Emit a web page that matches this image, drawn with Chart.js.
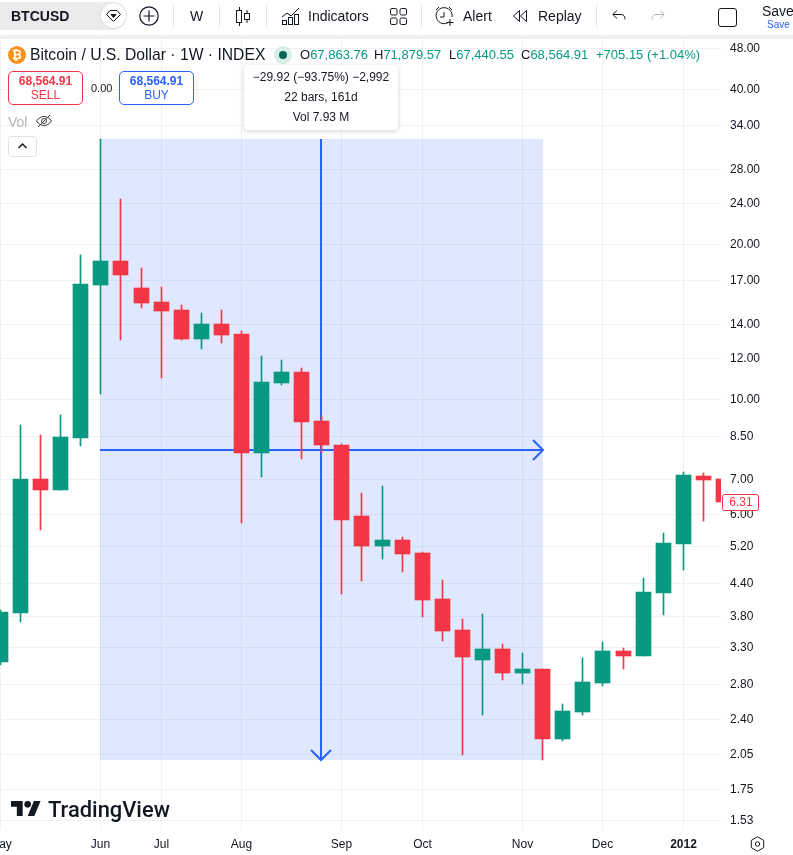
<!DOCTYPE html>
<html><head><meta charset="utf-8"><title>BTCUSD</title>
<script src="https://cdn.jsdelivr.net/npm/chart.js@4"></script>
<style>
html,body{margin:0;padding:0;background:#fff;width:793px;height:855px;overflow:hidden;font-family:"Liberation Sans",Arial,sans-serif;color:#131722}
canvas{position:absolute;left:0;top:0}
#ov{position:absolute;left:0;top:0;width:793px;height:855px;pointer-events:none}
.t{position:absolute;white-space:nowrap;line-height:16px}
.b{position:absolute;background:#e0e3eb}
.g{color:#089981}
svg{position:absolute;overflow:visible;fill:none;stroke:#131722;stroke-width:1}
</style></head><body>
<canvas id="c" width="793" height="855"></canvas>
<div id="ov">
 <div class="b" style="left:0;top:35px;width:793px;height:4px;background:#f0f0f0"></div>
 <div class="b" style="left:0;top:2px;width:127px;height:28px;border-radius:0 14px 14px 0;background:#ebebeb"></div>
 <div class="t" style="left:11px;top:8px;font-size:14px;font-weight:700">BTCUSD</div>
 <div class="b" style="left:101px;top:3px;width:25px;height:25px;border-radius:13px;background:#fff;box-shadow:0 0 2px rgba(0,0,0,.15)"></div>
 <svg style="left:106px;top:10px" width="15" height="12"><path d="M4 .5h7l3.5 4-7 7-7-7z"/><path d="M5 4.5h5l-2.5 3z" fill="#131722"/></svg>
 <svg style="left:139px;top:6px;stroke-width:1.2" width="20" height="20"><circle cx="10" cy="10" r="9.2"/><path d="M10 4.5v11M4.5 10h11"/></svg>
 <div class="b" style="left:173px;top:5px;width:1px;height:22px"></div>
 <div class="t" style="left:190px;top:8px;font-size:14px">W</div>
 <div class="b" style="left:219px;top:5px;width:1px;height:22px"></div>
 <svg style="left:236px;top:7px" width="14" height="19"><path d="M3.5 0v19M11 3v13"/><rect x=".5" y="3.5" width="5" height="12" fill="#fff"/><rect x="8.5" y="6.5" width="5" height="6" fill="#fff"/></svg>
 <div class="b" style="left:266px;top:5px;width:1px;height:22px"></div>
 <svg style="left:282px;top:7px" width="18" height="18"><path d="M0 10l5-4 4 3 8-8"/><rect x=".5" y="13.5" width="4" height="4"/><rect x="6.5" y="10.5" width="4" height="7"/><rect x="12.5" y="7.5" width="4" height="10"/></svg>
 <div class="t" style="left:308px;top:8px;font-size:14px">Indicators</div>
 <svg style="left:390px;top:8px" width="17" height="17"><rect x=".5" y=".5" width="6.5" height="6.5" rx="1.5"/><rect x="10" y=".5" width="6.5" height="6.5" rx="1.5"/><rect x=".5" y="10" width="6.5" height="6.5" rx="1.5"/><rect x="10" y="10" width="6.5" height="6.5" rx="1.5"/></svg>
 <div class="b" style="left:421px;top:5px;width:1px;height:22px"></div>
 <svg style="left:435px;top:6px" width="20" height="21"><path d="M14 16a8 8 0 1 1 3-5"/><path d="M9 6v5H5M1 4l3-3M17 4l-3-3M15 13v7M11.5 16.5h7"/></svg>
 <div class="t" style="left:463px;top:8px;font-size:14px">Alert</div>
 <svg style="left:513px;top:10px" width="15" height="12"><path d="M6.5 .5v11L.5 6zM13.5 .5v11L7.5 6z"/></svg>
 <div class="t" style="left:538px;top:8px;font-size:14px">Replay</div>
 <div class="b" style="left:596px;top:5px;width:1px;height:22px"></div>
 <svg style="left:612px;top:10px" width="14" height="11"><path d="M5 .5L.8 4.5 5 8.500M1 4.500h8c3 0 4 2 4 5"/></svg>
 <svg style="left:651px;top:10px;stroke:#b2b5be" width="14" height="11"><path d="M9 .5l4.200 4L9 8.500M13 4.500H5c-3 0-4 2-4 5"/></svg>
 <div class="b" style="left:718px;top:8px;width:17px;height:17px;background:#fff;border:1px solid #131722;border-radius:3px"></div>
 <div class="t" style="left:762px;top:3px;font-size:14px">Save</div>
 <div class="t" style="left:767px;top:17px;font-size:10px;color:#2962ff">Save</div>

 <div class="b" style="left:8px;top:46px;width:18px;height:18px;border-radius:9px;background:#f7931a"></div>
 <div class="t" style="left:12px;top:47px;font-size:12px;font-weight:700;color:#fff">₿</div>
 <div class="t" style="left:30px;top:47px;font-size:15.7px">Bitcoin / U.S. Dollar · 1W · INDEX</div>
 <div class="b" style="left:274px;top:46px;width:18px;height:18px;border-radius:9px;background:#d8eee9"></div>
 <div class="b" style="left:279px;top:51px;width:8px;height:8px;border-radius:4px;background:#056656"></div>
 <div class="t" style="left:300px;top:47px;font-size:13px">O<span class="g">67,863.76</span></div>
 <div class="t" style="left:374px;top:47px;font-size:13px">H<span class="g">71,879.57</span></div>
 <div class="t" style="left:449px;top:47px;font-size:13px">L<span class="g">67,440.55</span></div>
 <div class="t" style="left:521px;top:47px;font-size:13px">C<span class="g">68,564.91</span></div>
 <div class="t g" style="left:596px;top:47px;font-size:13px">+705.15 (+1.04%)</div>

 <div class="b" style="left:8px;top:71px;width:73px;height:32px;background:#fff;border:1px solid #f23645;border-radius:5px"></div>
 <div class="t" style="left:8px;width:75px;text-align:center;top:73px;font-size:12px;font-weight:700;color:#f23645">68,564.91</div>
 <div class="t" style="left:8px;width:75px;text-align:center;top:87px;font-size:12px;color:#f23645">SELL</div>
 <div class="t" style="left:91px;top:80px;font-size:11px">0.00</div>
 <div class="b" style="left:119px;top:71px;width:73px;height:32px;background:#fff;border:1px solid #2962ff;border-radius:5px"></div>
 <div class="t" style="left:119px;width:75px;text-align:center;top:73px;font-size:12px;font-weight:700;color:#2962ff">68,564.91</div>
 <div class="t" style="left:119px;width:75px;text-align:center;top:87px;font-size:12px;color:#2962ff">BUY</div>
 <div class="t" style="left:8px;top:114px;font-size:14px;color:#b2b5be">Vol</div>
 <svg style="left:36px;top:114px;stroke:#3a3d46" width="16" height="14"><path d="M.5 7c4-6 11-6 15 0-4 6-11 6-15 0z"/><circle cx="8" cy="7" r="2.500"/><path d="M2 13L14 1"/></svg>
 <div class="b" style="left:8px;top:136px;width:27px;height:19px;background:#fff;border:1px solid #e0e3eb;border-radius:3px"></div>
 <svg style="left:18px;top:143px;stroke-width:1.500" width="9" height="6"><path d="M.5 5L4.500 1l4 4"/></svg>

 <div class="b" style="left:244px;top:65px;width:154px;height:65px;background:#fff;border-radius:4px;box-shadow:0 1px 5px rgba(0,0,0,.18)"></div>
 <div class="t" style="left:244px;width:154px;text-align:center;top:69px;font-size:12px">−29.92 (−93.75%) −2,992</div>
 <div class="t" style="left:244px;width:154px;text-align:center;top:89px;font-size:12px">22 bars, 161d</div>
 <div class="t" style="left:244px;width:154px;text-align:center;top:109px;font-size:12px">Vol 7.93 M</div>

 <svg style="left:11px;top:801px;fill:#131722;stroke:none" width="30" height="15" viewBox="0 4 36 18"><path d="M14 22H7V11H0V4h14v18zM28 22h-8l7.500-18h8L28 22z"/><circle cx="20" cy="8" r="4"/></svg>
 <div class="t" style="left:48px;top:800px;font-size:21.9px;line-height:20px;font-family:Roboto;font-weight:500">TradingView</div>
 <svg style="left:750px;top:836px" width="15" height="16"><path d="M7.500 .8l6.200 3.600v7.200l-6.200 3.600-6.200-3.600V4.400z"/><circle cx="7.500" cy="8" r="2.200"/></svg>
</div>
<script>
// Weekly candles, oldest first (position 0 is the candle at the left edge)
const opens  = [3.09,3.85,7.00,6.665,8.41,16.66,18.54,16.44,15.44,14.90,13.09,14.00,13.39,7.86,10.75,11.29,9.07,8.15,5.93,5.19,5.33,5.03,4.098,3.57,3.12,3.28,2.94,3.00,2.19,2.47,2.815,3.25,3.18,4.21,5.24,7.09,7.00];
const highs  = [3.90,8.91,8.52,9.315,19.05,31.92,24.45,17.97,16.51,15.24,14.70,14.90,13.57,12.13,11.91,11.50,9.27,8.185,6.575,6.78,5.40,5.055,4.46,3.75,3.83,3.35,3.22,3.00,2.56,3.15,3.38,3.29,4.50,5.50,7.22,7.19,7.00];
const lows   = [3.05,3.70,5.574,6.665,8.11,10.24,13.03,15.03,10.99,13.03,12.51,12.86,5.75,7.06,10.66,7.655,7.86,4.19,4.44,4.90,4.62,3.78,3.40,2.04,2.44,2.85,2.80,2.00,2.17,2.44,2.78,3.00,3.18,3.815,4.66,5.80,6.31];
const closes = [3.87,7.00,6.665,8.44,16.73,18.54,17.42,15.37,14.83,13.09,14.00,13.33,7.86,10.80,11.29,9.03,8.15,5.83,5.19,5.33,5.01,4.08,3.55,3.16,3.28,2.94,3.00,2.19,2.485,2.83,3.25,3.18,4.23,5.26,7.13,6.97,6.31];
// Axis ticks
const priceTicks = [48,40,34,28,24,20,17,14,12,10,8.5,7,6,5.2,4.4,3.8,3.3,2.8,2.4,2.05,1.75,1.53];
const monthTickPositions = [0,5,8,12,17,21,26,30,34];
const monthTickLabels = ["May","Jun","Jul","Aug","Sep","Oct","Nov","Dec","2012"];
// Date & price range drawing
const rangeFrom = 5, rangeTo = 27, rangeMid = 16;
const rangeHigh = 31.92, rangeLow = 2.00;
const lastPrice = 6.31;

const UP = '#089981', DOWN = '#f23645', BLUE = '#2962ff', GRID = '#f0f1f3';

class CrispLinear extends Chart.LinearScale {
  static id = 'crispLinear';
  static defaults = Chart.LinearScale.defaults;
  getPixelForValue(v) { return Math.floor(super.getPixelForValue(v)) + 0.5; }
}
class CrispLog extends Chart.LogarithmicScale {
  static id = 'crispLog';
  static defaults = Chart.LogarithmicScale.defaults;
  getPixelForValue(v) { return Math.round(super.getPixelForValue(v)); }
}
Chart.register(CrispLinear, CrispLog);

const candleColors = opens.map((o, i) => closes[i] >= o ? UP : DOWN);

const rangeTool = {
  id: 'rangeTool',
  beforeDatasetsDraw(chart) {
    const {ctx, scales: {x, y}} = chart;
    const l = Math.floor(x.getPixelForValue(rangeFrom)), r = Math.ceil(x.getPixelForValue(rangeTo));
    const t = y.getPixelForValue(rangeHigh), b = y.getPixelForValue(rangeLow);
    const cx = Math.floor(x.getPixelForValue(rangeMid)), cy = Math.round((t + b) / 2);
    ctx.save();
    ctx.fillStyle = 'rgba(41,98,255,0.15)';
    ctx.fillRect(l, t, r - l, b - t);
    ctx.strokeStyle = BLUE; ctx.lineWidth = 2;
    ctx.beginPath();
    ctx.moveTo(cx, t); ctx.lineTo(cx, b);
    ctx.moveTo(cx - 10, b - 10); ctx.lineTo(cx, b); ctx.lineTo(cx + 10, b - 10);
    ctx.moveTo(l, cy); ctx.lineTo(r, cy);
    ctx.moveTo(r - 10, cy - 10); ctx.lineTo(r, cy); ctx.lineTo(r - 10, cy + 10);
    ctx.stroke();
    ctx.restore();
  }
};
const lastPriceLabel = {
  id: 'lastPriceLabel',
  afterDraw(chart) {
    const {ctx, scales: {y}} = chart;
    const py = y.getPixelForValue(lastPrice);
    ctx.save();
    ctx.fillStyle = '#fff'; ctx.strokeStyle = DOWN; ctx.lineWidth = 1;
    ctx.beginPath(); ctx.roundRect(722.5, py - 7.5, 36, 16, 2); ctx.fill(); ctx.stroke();
    ctx.fillStyle = DOWN; ctx.font = '12px "Liberation Sans"';
    ctx.textAlign = 'center'; ctx.textBaseline = 'middle';
    ctx.fillText(lastPrice.toFixed(2), 741, py + 1);
    ctx.restore();
  }
};

new Chart(document.getElementById('c'), {
  type: 'bar',
  plugins: [rangeTool, lastPriceLabel],
  data: {
    datasets: [
      { label: 'wick', barThickness: 1, grouped: false, backgroundColor: candleColors,
        data: opens.map((_, i) => ({x: i, y: [lows[i], highs[i]]})) },
      { label: 'body', barThickness: 15, grouped: false, backgroundColor: candleColors,
        data: opens.map((o, i) => ({x: i, y: [Math.min(o, closes[i]), Math.max(o, closes[i])]})) }
    ]
  },
  options: {
    responsive: false, animation: false, devicePixelRatio: 1,
    layout: {padding: {top: 39, left: 0, right: 0, bottom: 0}},
    plugins: {legend: {display: false}, tooltip: {enabled: false}},
    scales: {
      x: {
        type: 'crispLinear', min: -0.0224, max: 35.878, offset: false,
        grid: {color: GRID, drawTicks: false, offset: false}, border: {display: false},
        afterBuildTicks: s => { s.ticks = monthTickPositions.map(v => ({value: v})); },
        afterFit: s => { s.height = 25; s.paddingLeft = 0; s.paddingRight = 0; },
        ticks: {
          autoSkip: false, maxRotation: 0, padding: 7, color: '#131722',
          font: c => ({family: '"Liberation Sans"', size: 12, weight: c.tick && monthTickLabels[monthTickPositions.indexOf(c.tick.value)] === '2012' ? '700' : '400'}),
          callback: v => monthTickLabels[monthTickPositions.indexOf(v)] ?? ''
        }
      },
      y: {
        type: 'crispLog', position: 'right', min: 1.46, max: 49.97,
        grid: {color: GRID, drawTicks: false}, border: {display: false},
        afterBuildTicks: s => { s.ticks = priceTicks.map(v => ({value: v})); },
        afterFit: s => { s.width = 72; s.paddingTop = 0; s.paddingBottom = 0; },
        ticks: {
          autoSkip: false, padding: 9, labelOffset: 1, color: '#131722', crossAlign: 'near',
          font: {family: '"Liberation Sans"', size: 12},
          callback: v => Number(v).toFixed(2)
        }
      }
    }
  }
});
</script>
</body></html>
